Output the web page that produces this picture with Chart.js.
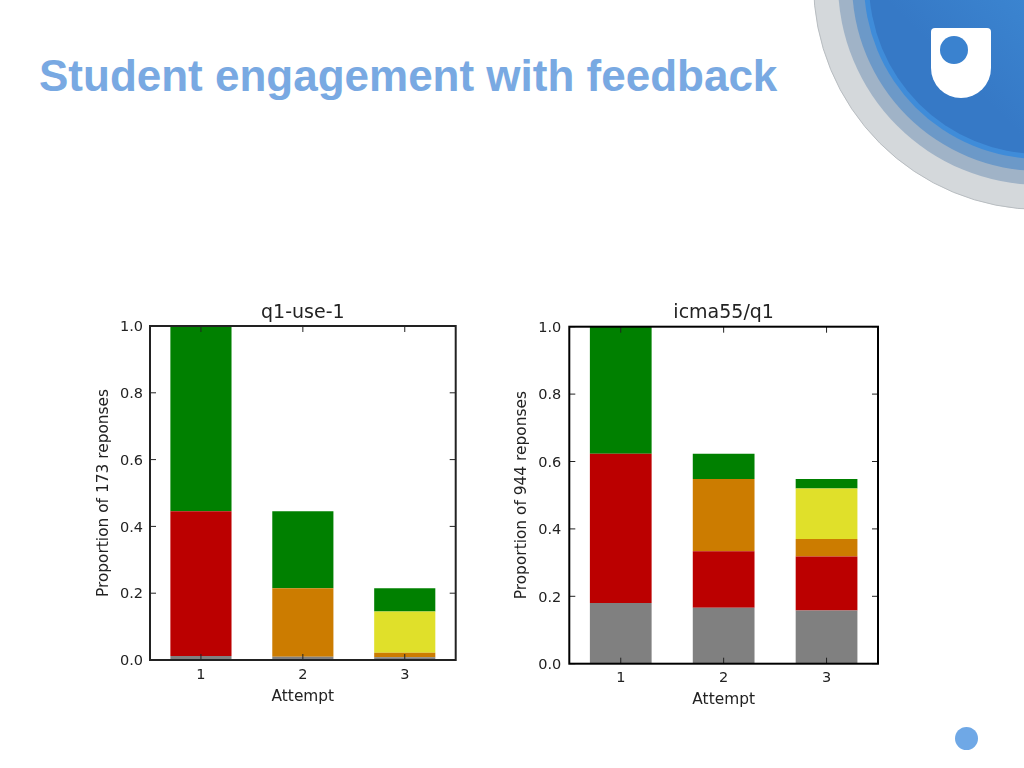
<!DOCTYPE html>
<html><head><meta charset="utf-8">
<script src="https://cdn.jsdelivr.net/npm/chart.js@4"></script>
<style>
html,body{margin:0;padding:0;background:#fff;width:1024px;height:768px;overflow:hidden}
#stage{position:relative;width:1024px;height:768px;overflow:hidden}
.c{position:absolute;border-radius:50%;box-sizing:border-box}
#h{position:absolute;left:39px;top:50px;margin:0;font:bold 44px/52px "Liberation Sans",Arial,sans-serif;color:#79a9e2;white-space:nowrap}
#logo{position:absolute;left:931px;top:28px;width:60px;height:70px;background:#fff;border-radius:4px 4px 30px 30px}
#logo i{position:absolute;left:9px;top:8px;width:28px;height:28px;border-radius:50%;background:#3a82cf}
canvas{position:absolute}
</style></head><body><div id="stage">
<div class="c" style="left:813px;top:-244px;width:454px;height:454px;background:#d4d8db;border:1px solid #b8bdc1"></div>
<div class="c" style="left:838px;top:-219px;width:404px;height:404px;background:#a0b3c7"></div>
<div class="c" style="left:852px;top:-205px;width:376px;height:376px;background:#6c99c8"></div>
<div class="c" style="left:864px;top:-193px;width:352px;height:352px;background:#3f8cd9"></div>
<div class="c" style="left:869px;top:-188px;width:342px;height:342px;background:linear-gradient(45deg,#3679c6 25%,#4192dc 70%)"></div>
<div id="logo"><i></i></div>
<h1 id="h">Student engagement with feedback</h1>
<div class="c" style="left:955px;top:727px;width:23px;height:23px;background:#6fa8e6"></div>
<canvas id="a" width="400" height="420" style="left:80px;top:290px;width:400px;height:420px"></canvas>
<canvas id="b" width="400" height="420" style="left:500px;top:290px;width:400px;height:420px"></canvas>
</div>
<script>
const attempts = ['1','2','3'];
const yTicks = [0,0.2,0.4,0.6,0.8,1.0];

const titleA = 'q1-use-1';
const yLabelA = 'Proportion of 173 reponses';
const grayA   = [0.012,0.010,0.008];
const redA    = [0.433,0,0];
const orangeA = [0,0.205,0.014];
const yellowA = [0,0,0.123];
const greenA  = [0.555,0.230,0.070];

const titleB = 'icma55/q1';
const yLabelB = 'Proportion of 944 reponses';
const grayB   = [0.180,0.166,0.158];
const redB    = [0.443,0.168,0.160];
const orangeB = [0,0.214,0.052];
const yellowB = [0,0,0.150];
const greenB  = [0.377,0.075,0.028];

const FONT = '"DejaVu Sans"';
const INK = '#222';

function frame(color, width){
  return {
    id:'frame',
    afterDatasetsDraw(chart){
      const {ctx,chartArea:a,scales:{x,y}} = chart;
      ctx.save();
      ctx.strokeStyle = '#222'; ctx.lineWidth = 1;
      ctx.beginPath();
      x.ticks.forEach((t,i)=>{const p=x.getPixelForTick(i);
        ctx.moveTo(p,a.top);ctx.lineTo(p,a.top+6);ctx.moveTo(p,a.bottom);ctx.lineTo(p,a.bottom-6);});
      y.ticks.forEach((t,i)=>{const p=y.getPixelForTick(i);
        ctx.moveTo(a.left,p);ctx.lineTo(a.left+6,p);ctx.moveTo(a.right,p);ctx.lineTo(a.right-6,p);});
      ctx.stroke();
      ctx.strokeStyle = color; ctx.lineWidth = width;
      ctx.strokeRect(a.left,a.top,a.right-a.left,a.bottom-a.top);
      ctx.restore();
    }
  };
}

function make(id,title,yLabel,gray,red,orange,yellow,green,geo){
  const ds = (label,data,c)=>({label,data,backgroundColor:c,borderWidth:0,barPercentage:0.6,categoryPercentage:1,stack:'s'});
  return new Chart(document.getElementById(id),{
    type:'bar',
    data:{labels:attempts,datasets:[
      ds('gray',gray,'#808080'),ds('red',red,'#bb0000'),ds('orange',orange,'#cc7c00'),
      ds('yellow',yellow,'#e0e02a'),ds('green',green,'#008000')]},
    options:{
      responsive:false,animation:false,
      layout:{padding:{left:0,top:0,right:geo.right,bottom:0}},
      plugins:{legend:{display:false},tooltip:{enabled:false},
        title:{display:true,text:title,fullSize:false,color:INK,font:{family:FONT,size:geo.titleSize,weight:'normal',lineHeight:1.2},
          padding:{top:geo.titleTop,bottom:geo.top-geo.titleSize*1.2-geo.titleTop}}},
      scales:{
        x:{stacked:true,grid:{display:false,drawTicks:false},border:{display:false},
          afterFit(s){s.height=geo.xh;},
          ticks:{color:INK,padding:geo.xpad,maxRotation:0,font:{family:FONT,size:geo.tick}},
          title:{display:true,text:'Attempt',color:INK,font:{family:FONT,size:geo.axis},padding:{top:0,bottom:geo.xtb}}},
        y:{stacked:true,min:0,max:1,grid:{display:false,drawTicks:false},border:{display:false},
          afterFit(s){s.width=geo.left;},
          afterBuildTicks(s){s.ticks=yTicks.map(v=>({value:v}));},
          ticks:{color:INK,padding:geo.ypad,labelOffset:1.5,font:{family:FONT,size:geo.tick},callback:v=>v.toFixed(1)},
          title:{display:true,text:yLabel,color:INK,font:{family:FONT,size:geo.axis},padding:{top:geo.ytp,bottom:0}}}
      }
    },
    plugins:[frame(geo.fc,geo.fw)]
  });
}
make('a',titleA,yLabelA,grayA,redA,orangeA,yellowA,greenA,
  {left:70,right:24.3,top:36,xh:50,titleSize:19,titleTop:12,tick:14.5,axis:15.4,xpad:7,ypad:7,xtb:4,ytp:15,fc:'#222',fw:2});
make('b',titleB,yLabelB,grayB,redB,orangeB,yellowB,greenB,
  {left:69.3,right:22,top:36.7,xh:46.3,titleSize:19,titleTop:12,tick:14.5,axis:15.4,xpad:6,ypad:8,xtb:1,ytp:13,fc:'#000',fw:2});
</script></body></html>
